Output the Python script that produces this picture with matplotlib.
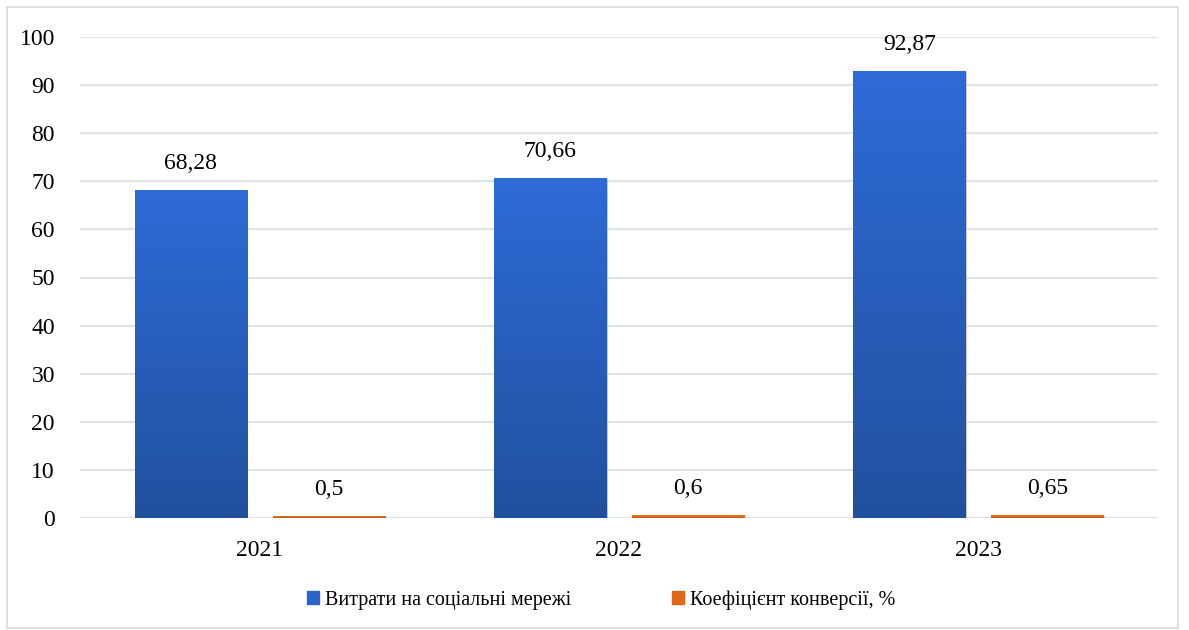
import matplotlib
matplotlib.use("Agg")
import matplotlib.pyplot as plt
import numpy as np
from matplotlib.colors import LinearSegmentedColormap
from matplotlib.patches import Rectangle

years = ["2021", "2022", "2023"]
spend = [68.28, 70.66, 92.87]
conv = [0.5, 0.6, 0.65]
spend_labels = ["68,28", "70,66", "92,87"]
conv_labels = ["0,5", "0,6", "0,65"]
series_names = ["Витрати на соціальні мережі", "Коефіцієнт конверсії, %"]
yticks = [0, 10, 20, 30, 40, 50, 60, 70, 80, 90, 100]

plt.rcParams['font.family'] = ['Liberation Serif', 'DejaVu Serif']

fig = plt.figure(figsize=(11.89, 6.30), dpi=100)
ax = fig.add_axes([80/1189, 1 - 518/630, 1078/1189, 481/630])

x = np.arange(len(years))
w = 0.312
off = 0.192
blue_cmap = LinearSegmentedColormap.from_list("b", ["#21509E", "#2E6BD7"])
orange_cmap = LinearSegmentedColormap.from_list("o", ["#C55A11", "#F5781F"])

b1 = ax.bar(x - off, spend, w, color="#2B65CC", zorder=2)
b2 = ax.bar(x + off, conv, w, color="#ED7D31", zorder=2)

grad = np.linspace(0, 1, 256).reshape(-1, 1)
for bars, cmap in ((b1, blue_cmap), (b2, orange_cmap)):
    for r in bars:
        x0, y0 = r.get_x(), r.get_y()
        bw, bh = r.get_width(), r.get_height()
        sh = Rectangle((x0 + 0.004, y0 - 0.25), bw, bh, color="#c8c8c8", zorder=1.5, lw=0)
        ax.add_patch(sh)
        im = ax.imshow(grad, extent=(x0, x0 + bw, y0, y0 + bh), origin="lower",
                       cmap=cmap, aspect="auto", zorder=2.1)
        im.set_clip_path(r)

fs = 17
for i in range(len(years)):
    ax.text(x[i] - off, spend[i] + 3.3, spend_labels[i], ha="center", va="bottom", fontsize=fs)
    ax.text(x[i] + off, conv[i] + 3.3, conv_labels[i], ha="center", va="bottom", fontsize=fs)

ax.set_xlim(-0.5, 2.5)
ax.set_ylim(0, 100)
ax.set_yticks(yticks)
ax.set_yticklabels([str(t) for t in yticks], fontsize=fs)
ax.set_xticks(x)
ax.set_xticklabels(years, fontsize=fs)
ax.tick_params(axis="both", length=0)
ax.tick_params(axis="y", pad=18)
ax.tick_params(axis="x", pad=16)
ax.grid(axis="y", color="#DDE1E8", lw=1.5, zorder=0)
ax.set_axisbelow(True)
for s in ax.spines.values():
    s.set_visible(False)
ax.axhline(0, color="#DDE1E8", lw=1.5, zorder=0.5)

handles = [Rectangle((0, 0), 1, 1, color="#2B65CC"), Rectangle((0, 0), 1, 1, color="#E0681A")]
fig.legend(handles, series_names, loc="center", bbox_to_anchor=(601/1189, 1 - 600/630), ncol=2,
           frameon=False, prop={'family': 'Liberation Serif', 'size': 14.5}, handlelength=0.6,
           handleheight=0.6, handletextpad=0.3, columnspacing=5.0)

border = Rectangle((7/1189, 2/630), 1171/1189, 621/630, transform=fig.transFigure,
                   fill=False, edgecolor="#D9D9D9", lw=1.2)
fig.patches.append(border)

fig.savefig("out.png", dpi=100)
